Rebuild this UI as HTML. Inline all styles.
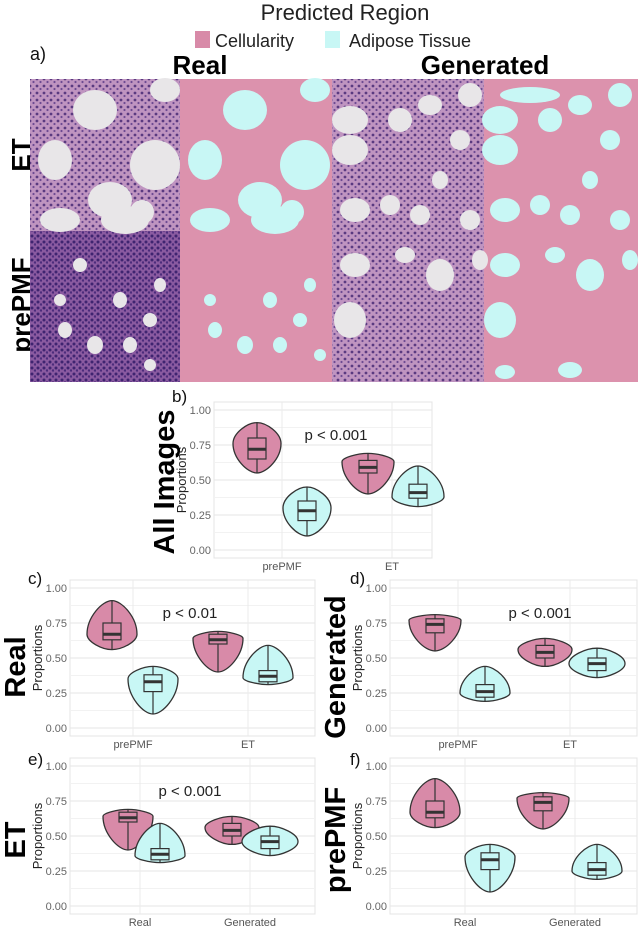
<!DOCTYPE html>
<html><head><meta charset="utf-8"><style>
html,body{margin:0;padding:0;background:#fff;}
svg{display:block;font-family:"Liberation Sans",sans-serif;}
</style></head><body>
<svg id="s" width="640" height="929" viewBox="0 0 640 929" xmlns="http://www.w3.org/2000/svg">
<defs>
<pattern id="cells" width="7" height="7" patternUnits="userSpaceOnUse">
<rect width="7" height="7" fill="#bf94c0"/>
<circle cx="2" cy="2" r="1.4" fill="#5a3a80"/>
<circle cx="5.5" cy="5" r="1.1" fill="#6d4a92"/>
</pattern>
<pattern id="cells2" width="6" height="6" patternUnits="userSpaceOnUse">
<rect width="6" height="6" fill="#8a5aa0"/>
<circle cx="2" cy="2" r="1.5" fill="#3f2470"/>
<circle cx="5" cy="4.5" r="1.2" fill="#4c2c7c"/>
</pattern>
</defs>
<text x="345" y="20" font-size="22" text-anchor="middle" fill="#222">Predicted Region</text>
<rect x="195" y="31" width="15" height="17" fill="#d88aa8"/>
<text x="215" y="47" font-size="18" fill="#222">Cellularity</text>
<rect x="325" y="31" width="15" height="17" fill="#c8f7f5"/>
<text x="349" y="47" font-size="18" fill="#222">Adipose Tissue</text>
<text x="30" y="60" font-size="18" fill="#111">a)</text>
<text x="200" y="74" font-size="26" font-weight="bold" text-anchor="middle">Real</text>
<text x="485" y="74" font-size="26" font-weight="bold" text-anchor="middle">Generated</text>
<text transform="translate(30,155) rotate(-90)" font-size="26" font-weight="bold" text-anchor="middle">ET</text>
<text transform="translate(30,305) rotate(-90)" font-size="26" font-weight="bold" text-anchor="middle">prePMF</text>
<rect x="30" y="79" width="150" height="152" fill="url(#cells)"/>
<rect x="180" y="79" width="152" height="152" fill="#dc92ad"/>
<rect x="332" y="79" width="152" height="152" fill="url(#cells)"/>
<rect x="484" y="79" width="154" height="152" fill="#dc92ad"/>
<rect x="30" y="231" width="150" height="151" fill="url(#cells2)"/>
<rect x="180" y="231" width="152" height="151" fill="#dc92ad"/>
<rect x="332" y="231" width="152" height="151" fill="url(#cells)"/>
<rect x="484" y="231" width="154" height="151" fill="#dc92ad"/>
<g fill="#e8e6e8">
<ellipse cx="95" cy="110" rx="22" ry="20"/><ellipse cx="55" cy="160" rx="17" ry="20"/>
<ellipse cx="155" cy="165" rx="25" ry="25"/><ellipse cx="110" cy="200" rx="22" ry="18"/>
<ellipse cx="125" cy="220" rx="24" ry="14"/><ellipse cx="60" cy="220" rx="20" ry="12"/>
<ellipse cx="165" cy="90" rx="15" ry="12"/><ellipse cx="142" cy="212" rx="12" ry="12"/>
</g>
<g fill="#c8f7f5">
<ellipse cx="245" cy="110" rx="22" ry="20"/><ellipse cx="205" cy="160" rx="17" ry="20"/>
<ellipse cx="305" cy="165" rx="25" ry="25"/><ellipse cx="260" cy="200" rx="22" ry="18"/>
<ellipse cx="275" cy="220" rx="24" ry="14"/><ellipse cx="210" cy="220" rx="20" ry="12"/>
<ellipse cx="315" cy="90" rx="15" ry="12"/><ellipse cx="292" cy="212" rx="12" ry="12"/>
</g>
<g fill="#e8e6e8">
<ellipse cx="350" cy="120" rx="18" ry="14"/><ellipse cx="350" cy="150" rx="18" ry="15"/>
<ellipse cx="400" cy="120" rx="12" ry="12"/><ellipse cx="430" cy="105" rx="12" ry="10"/>
<ellipse cx="460" cy="140" rx="10" ry="10"/><ellipse cx="355" cy="210" rx="15" ry="12"/>
<ellipse cx="390" cy="205" rx="10" ry="10"/><ellipse cx="420" cy="215" rx="10" ry="10"/>
<ellipse cx="470" cy="95" rx="12" ry="12"/><ellipse cx="440" cy="180" rx="8" ry="9"/>
<ellipse cx="470" cy="220" rx="10" ry="10"/>
<ellipse cx="355" cy="265" rx="15" ry="12"/><ellipse cx="440" cy="275" rx="14" ry="16"/>
<ellipse cx="350" cy="320" rx="16" ry="18"/><ellipse cx="405" cy="255" rx="10" ry="8"/>
<ellipse cx="480" cy="260" rx="8" ry="10"/>
</g>
<g fill="#c8f7f5">
<ellipse cx="500" cy="120" rx="18" ry="14"/><ellipse cx="500" cy="150" rx="18" ry="15"/>
<ellipse cx="550" cy="120" rx="12" ry="12"/><ellipse cx="580" cy="105" rx="12" ry="10"/>
<ellipse cx="610" cy="140" rx="10" ry="10"/><ellipse cx="505" cy="210" rx="15" ry="12"/>
<ellipse cx="540" cy="205" rx="10" ry="10"/><ellipse cx="570" cy="215" rx="10" ry="10"/>
<ellipse cx="620" cy="95" rx="12" ry="12"/><ellipse cx="590" cy="180" rx="8" ry="9"/>
<ellipse cx="620" cy="220" rx="10" ry="10"/><ellipse cx="530" cy="95" rx="30" ry="8"/>
<ellipse cx="505" cy="265" rx="15" ry="12"/><ellipse cx="590" cy="275" rx="14" ry="16"/>
<ellipse cx="500" cy="320" rx="16" ry="18"/><ellipse cx="555" cy="255" rx="10" ry="8"/>
<ellipse cx="630" cy="260" rx="8" ry="10"/><ellipse cx="570" cy="370" rx="12" ry="8"/>
<ellipse cx="505" cy="372" rx="10" ry="7"/>
<ellipse cx="215" cy="330" rx="7" ry="8"/><ellipse cx="245" cy="345" rx="8" ry="9"/>
<ellipse cx="210" cy="300" rx="6" ry="6"/><ellipse cx="280" cy="345" rx="7" ry="8"/>
<ellipse cx="300" cy="320" rx="7" ry="7"/><ellipse cx="310" cy="285" rx="6" ry="7"/>
<ellipse cx="270" cy="300" rx="7" ry="8"/><ellipse cx="320" cy="355" rx="6" ry="6"/>
</g>
<g fill="#e8e6e8">
<ellipse cx="65" cy="330" rx="7" ry="8"/><ellipse cx="95" cy="345" rx="8" ry="9"/>
<ellipse cx="60" cy="300" rx="6" ry="6"/><ellipse cx="130" cy="345" rx="7" ry="8"/>
<ellipse cx="150" cy="320" rx="7" ry="7"/><ellipse cx="160" cy="285" rx="6" ry="7"/>
<ellipse cx="120" cy="300" rx="7" ry="8"/><ellipse cx="150" cy="365" rx="6" ry="6"/>
<ellipse cx="80" cy="265" rx="7" ry="7"/>
</g>
<g id="plots"></g>
</svg>
<script>
var ns="http://www.w3.org/2000/svg",g=document.getElementById("plots");
function el(t,a,txt){var e=document.createElementNS(ns,t);for(var k in a)e.setAttribute(k,a[k]);if(txt)e.textContent=txt;g.appendChild(e);return e;}
var P="#d88aa8",C="#c8f7f5";
function violin(cx,y0,top,bot,wide,w,q1,med,q3,col){
 var yt=y0-top*140,yb=y0-bot*140,yw=y0-wide*140;
 var d="M"+cx+","+yt+" C"+(cx+w*0.4)+","+yt+" "+(cx+w)+","+(yw-(yw-yt)*0.5)+" "+(cx+w)+","+yw+" C"+(cx+w)+","+(yw+(yb-yw)*0.5)+" "+(cx+w*0.4)+","+yb+" "+cx+","+yb+
 " C"+(cx-w*0.4)+","+yb+" "+(cx-w)+","+(yw+(yb-yw)*0.5)+" "+(cx-w)+","+yw+" C"+(cx-w)+","+(yw-(yw-yt)*0.5)+" "+(cx-w*0.4)+","+yt+" "+cx+","+yt+"Z";
 el("path",{d:d,fill:col,stroke:"#333","stroke-width":1.3});
 el("line",{x1:cx,x2:cx,y1:yt,y2:yb,stroke:"#333","stroke-width":1.2});
 el("rect",{x:cx-9,y:y0-q3*140,width:18,height:(q3-q1)*140,fill:col,stroke:"#333","stroke-width":1.2});
 el("line",{x1:cx-9,x2:cx+9,y1:y0-med*140,y2:y0-med*140,stroke:"#333","stroke-width":3});
}
function panel(x1,x2,y0,labels,lx,ptext,px){
 el("rect",{x:x1,y:y0-148,width:x2-x1,height:156,fill:"#fff",stroke:"#e4e4e4"});
 for(var i=0;i<=8;i++){var y=y0-i*17.5;el("line",{x1:x1,x2:x2,y1:y,y2:y,stroke:i%2?"#f2f2f2":"#e6e6e6"});}
 lx.forEach(function(x){el("line",{x1:x,x2:x,y1:y0-148,y2:y0+8,stroke:"#ebebeb"});});
 ["0.00","0.25","0.50","0.75","1.00"].forEach(function(t,i){el("text",{x:x1-3,y:y0-i*35+4,"font-size":11,fill:"#666","text-anchor":"end"},t);});
 labels.forEach(function(t,i){el("text",{x:lx[i],y:y0+20,"font-size":11,fill:"#555","text-anchor":"middle"},t);});
 el("text",{transform:"translate("+(x1-28)+","+(y0-70)+") rotate(-90)","font-size":13,fill:"#222","text-anchor":"middle"},"Proportions");
 if(ptext)el("text",{x:px,y:y0-110,"font-size":15,fill:"#222","text-anchor":"middle"},ptext);
}
function big(x,y,t){el("text",{transform:"translate("+x+","+y+") rotate(-90)","font-size":29,"font-weight":"bold",fill:"#000","text-anchor":"middle"},t);}
function lab(x,y,t){el("text",{x:x,y:y,"font-size":17,fill:"#111"},t);}
// b
panel(214,432,550,["prePMF","ET"],[282,392],"p < 0.001",336);
violin(257,550,0.91,0.55,0.76,24,0.65,0.72,0.8,P);
violin(307,550,0.45,0.1,0.3,24,0.21,0.28,0.35,C);
violin(368,550,0.69,0.4,0.63,26,0.55,0.59,0.64,P);
violin(418,550,0.6,0.31,0.38,26,0.37,0.41,0.47,C);
big(174,482,"All Images");lab(172,402,"b)");
// c
panel(70,315,728,["prePMF","ET"],[133,248],"p < 0.01",190);
violin(112,728,0.91,0.56,0.67,25,0.63,0.67,0.75,P);
violin(153,728,0.44,0.1,0.35,25,0.26,0.33,0.38,C);
violin(218,728,0.69,0.4,0.64,25,0.6,0.63,0.67,P);
violin(268,728,0.59,0.31,0.36,25,0.33,0.37,0.41,C);
big(25,667,"Real");lab(28,584,"c)");
// d
panel(390,637,728,["prePMF","ET"],[458,570],"p < 0.001",540);
violin(435,728,0.81,0.55,0.77,26,0.68,0.74,0.78,P);
violin(485,728,0.44,0.19,0.25,25,0.22,0.26,0.31,C);
violin(545,728,0.64,0.44,0.56,27,0.5,0.54,0.59,P);
violin(597,728,0.57,0.36,0.46,28,0.41,0.46,0.5,C);
big(345,667,"Generated");lab(350,584,"d)");
// e
panel(70,315,906,["Real","Generated"],[140,250],"p < 0.001",190);
violin(128,906,0.69,0.4,0.64,25,0.6,0.63,0.67,P);
violin(160,906,0.59,0.31,0.36,25,0.33,0.37,0.41,C);
violin(232,906,0.64,0.44,0.56,27,0.5,0.54,0.59,P);
violin(270,906,0.57,0.36,0.46,28,0.41,0.46,0.5,C);
big(25,840,"ET");lab(28,765,"e)");
// f
panel(390,637,906,["Real","Generated"],[465,575],null,0);
violin(435,906,0.91,0.56,0.67,25,0.63,0.67,0.75,P);
violin(490,906,0.44,0.1,0.35,25,0.26,0.33,0.38,C);
violin(543,906,0.81,0.55,0.77,26,0.68,0.74,0.78,P);
violin(597,906,0.44,0.19,0.25,25,0.22,0.26,0.31,C);
big(345,840,"prePMF");lab(350,765,"f)");
</script>
</body></html>
